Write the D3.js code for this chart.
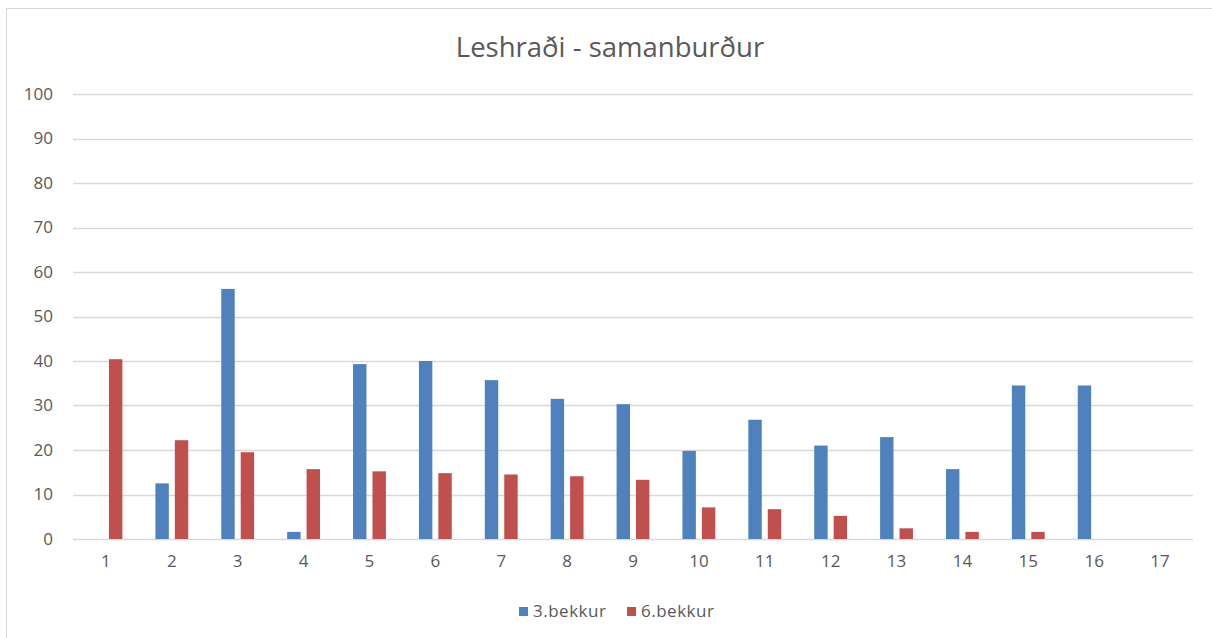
<!DOCTYPE html>
<html>
<head>
<meta charset="utf-8">
<script src="https://cdn.jsdelivr.net/npm/d3@7"></script>
<style>
  html, body { margin: 0; padding: 0; background: #fff; }
  svg { display: block; font-family: "Open Sans", "Liberation Sans", sans-serif; }
</style>
</head>
<body>
<svg id="chart" width="1212" height="638"></svg>
<script>
const TITLE = "Leshraði - samanburður";
const categories = ["1","2","3","4","5","6","7","8","9","10","11","12","13","14","15","16","17"];
const seriesNames = ["3.bekkur", "6.bekkur"];
const bekkur3 = [0, 12.5, 56.2, 1.6, 39.3, 40.0, 35.7, 31.5, 30.3, 19.8, 26.8, 21.0, 22.9, 15.7, 34.5, 34.5, 0];
const bekkur6 = [40.4, 22.2, 19.5, 15.7, 15.2, 14.8, 14.5, 14.1, 13.3, 7.1, 6.7, 5.2, 2.4, 1.6, 1.6, 0, 0];
const yTicks = [0, 10, 20, 30, 40, 50, 60, 70, 80, 90, 100];

const COLORS = ["#4F81BD", "#C0504D"];
const TEXT = "#595959";
const FONT = "'Open Sans', sans-serif";

const W = 1212, H = 638;
const margin = {top: 94, right: 19, bottom: 99, left: 73};

const svg = d3.select("#chart");

// outer chart frame (only left and top edges visible in the shot)
svg.append("rect")
  .attr("x", 6.5).attr("y", 8.5)
  .attr("width", 1220).attr("height", 640)
  .attr("fill", "#fff")
  .attr("stroke", "#d9d9d9");

const x = d3.scaleBand()
  .domain(categories)
  .range([margin.left, W - margin.right]);

const xInner = d3.scaleBand()
  .domain(seriesNames)
  .range([0, x.bandwidth()])
  .paddingInner(0.31)
  .paddingOuter(0.85);

const y = d3.scaleLinear()
  .domain([0, 100])
  .range([H - margin.bottom, margin.top]);

// gridlines
svg.append("g")
  .selectAll("line")
  .data(yTicks)
  .join("line")
  .attr("x1", margin.left).attr("x2", W - margin.right)
  .attr("y1", d => Math.round(y(d)) + 0.5).attr("y2", d => Math.round(y(d)) + 0.5)
  .attr("stroke", "#d9d9d9")
  .attr("stroke-width", 1.3);

// y axis labels
const yAxis = d3.axisLeft(y).tickValues(yTicks).tickSize(0).tickPadding(20);
svg.append("g")
  .attr("transform", `translate(${margin.left},0)`)
  .call(yAxis)
  .call(g => g.select(".domain").remove())
  .call(g => g.selectAll("text")
    .attr("fill", TEXT)
    .style("font-size", "17px")
    .style("font-family", FONT));

// x axis labels
const xAxis = d3.axisBottom(x).tickSize(0).tickPadding(16);
svg.append("g")
  .attr("transform", `translate(0,${H - margin.bottom})`)
  .call(xAxis)
  .call(g => g.select(".domain").remove())
  .call(g => g.selectAll("text")
    .attr("fill", TEXT)
    .style("font-size", "17px")
    .style("font-family", FONT));

// bars
const rows = categories.map((c, i) => ({cat: c, values: [bekkur3[i], bekkur6[i]]}));
svg.append("g")
  .selectAll("g")
  .data(rows)
  .join("g")
  .attr("transform", d => `translate(${x(d.cat)},0)`)
  .selectAll("rect")
  .data(d => d.values.map((v, k) => ({name: seriesNames[k], value: v, k: k})))
  .join("rect")
  .attr("x", d => xInner(d.name))
  .attr("width", xInner.bandwidth())
  .attr("y", d => y(d.value))
  .attr("height", d => y(0) - y(d.value))
  .attr("fill", d => COLORS[d.k]);

// title
svg.append("text")
  .attr("x", 610).attr("y", 57)
  .attr("text-anchor", "middle")
  .attr("fill", TEXT)
  .style("font-size", "27.5px")
  .style("font-family", FONT)
  .text(TITLE);

// legend
const legend = svg.append("g").attr("transform", "translate(519,0)");
const legendX = [0, 108];
seriesNames.forEach((name, k) => {
  legend.append("rect")
    .attr("x", legendX[k]).attr("y", 607)
    .attr("width", 9).attr("height", 9)
    .attr("fill", COLORS[k]);
  legend.append("text")
    .attr("x", legendX[k] + 14).attr("y", 617)
    .attr("fill", TEXT)
    .style("font-size", "17px")
    .style("letter-spacing", "0.5px")
    .style("font-family", FONT)
    .text(name);
});
</script>
</body>
</html>
